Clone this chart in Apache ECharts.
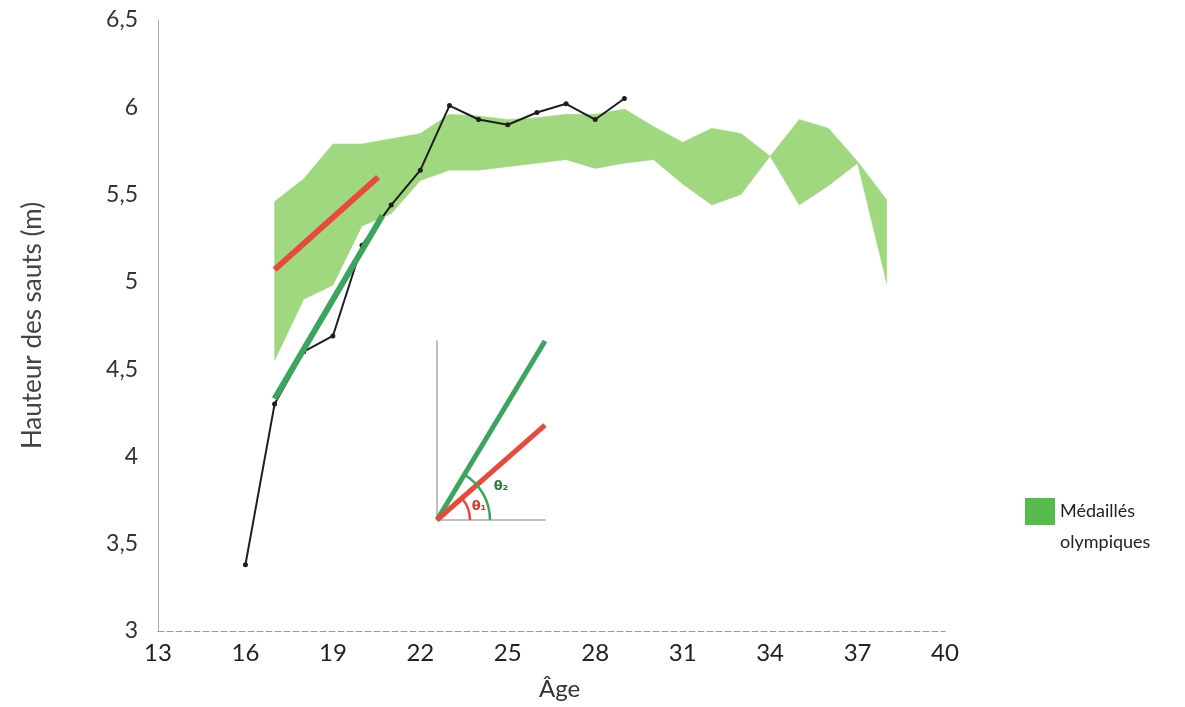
<!DOCTYPE html>
<html>
<head>
<meta charset="utf-8">
<script src="https://cdn.jsdelivr.net/npm/echarts@6/dist/echarts.min.js"></script>
<style>html,body{margin:0;padding:0;background:#fff}#c{width:1185px;height:707px}</style>
</head>
<body>
<div id="c"></div>
<script>
// Athlete jump heights (black line)
var athleteAges = [16, 17, 18, 19, 20, 21, 22, 23, 24, 25, 26, 27, 28, 29];
var athleteHeights = [3.38, 4.30, 4.60, 4.69, 5.21, 5.44, 5.64, 6.01, 5.93, 5.90, 5.97, 6.02, 5.93, 6.05];

// Olympic medallists band
var bandAges = [17, 18, 19, 20, 21, 22, 23, 24, 25, 26, 27, 28, 29, 30, 31, 32, 33, 34, 35, 36, 37, 38];
var bandUpper = [5.46, 5.59, 5.79, 5.79, 5.82, 5.85, 5.96, 5.95, 5.93, 5.94, 5.96, 5.96, 5.99, 5.89, 5.80, 5.88, 5.85, 5.72, 5.93, 5.88, 5.69, 5.47];
var bandLower = [4.55, 4.90, 4.98, 5.32, 5.39, 5.58, 5.64, 5.64, 5.66, 5.68, 5.70, 5.65, 5.68, 5.70, 5.56, 5.44, 5.50, 5.72, 5.44, 5.55, 5.68, 4.99];

// Trend lines
var redTrendAges = [17, 20.55];
var redTrendValues = [5.07, 5.60];
var greenTrendAges = [17, 20.7];
var greenTrendValues = [4.33, 5.38];

// Inset schematic (unit square)
var insetGreen = [[0, 0], [1, 1]];
var insetRed = [[0, 0], [1, 0.53]];

var xTicks = [13, 16, 19, 22, 25, 28, 31, 34, 37, 40];
var yTicks = [3, 3.5, 4, 4.5, 5, 5.5, 6, 6.5];

var bandName = 'Médaillés olympiques';

function pairs(xs, ys) { return xs.map(function (x, i) { return [x, ys[i]]; }); }

var bandData = bandAges.map(function (a, i) { return [a, bandLower[i], bandUpper[i]]; });

var chart = echarts.init(document.getElementById('c'), null, {renderer: 'canvas'});
chart.setOption({
  animation: false,
  backgroundColor: '#ffffff',
  grid: [
    {left: 158, right: 240, top: 20, bottom: 76},
    {left: 437, top: 341, width: 108, height: 179}
  ],
  xAxis: [{
    type: 'value', gridIndex: 0, min: 13, max: 40, interval: 3,
    name: 'Âge', nameLocation: 'middle', nameGap: 46,
    nameTextStyle: {fontFamily: 'Lato', fontSize: 24, color: '#333', padding: [0, 0, 0, 16]},
    axisLine: {show: true, lineStyle: {color: '#999', type: [6, 3], width: 1}},
    axisTick: {show: false},
    splitLine: {show: false},
    axisLabel: {margin: 10, fontFamily: 'Lato', fontSize: 24, color: '#222'}
  }, {
    type: 'value', gridIndex: 1, min: 0, max: 1,
    axisLine: {show: true, lineStyle: {color: '#aaa', width: 1.5}},
    axisTick: {show: false}, axisLabel: {show: false}, splitLine: {show: false}
  }],
  yAxis: [{
    type: 'value', gridIndex: 0, min: 3, max: 6.5, interval: 0.5,
    name: 'Hauteur des sauts (m)', nameLocation: 'middle', nameGap: 112, nameRotate: 90,
    nameTextStyle: {fontFamily: 'Lato', fontSize: 26, color: '#444'},
    axisLine: {show: true, lineStyle: {color: '#aaa', width: 1}},
    axisTick: {show: false},
    splitLine: {show: false},
    axisLabel: {margin: 20, fontFamily: 'Lato', fontSize: 23, color: '#333',
      formatter: function (v) { return String(v).replace('.', ','); }}
  }, {
    type: 'value', gridIndex: 1, min: 0, max: 1,
    axisLine: {show: true, lineStyle: {color: '#aaa', width: 1.5}},
    axisTick: {show: false}, axisLabel: {show: false}, splitLine: {show: false}
  }],
  legend: {
    left: 1020, top: 460, orient: 'vertical',
    itemWidth: 30, itemHeight: 27, itemGap: 10,
    data: [{name: bandName, icon: 'rect', itemStyle: {color: '#56bb4c'}}],
    formatter: function () { return '\nMédaillés\nolympiques'; },
    textStyle: {fontFamily: 'Lato', fontSize: 18, color: '#222', lineHeight: 31}
  },
  series: [
    {
      name: bandName, type: 'custom', xAxisIndex: 0, yAxisIndex: 0,
      data: bandData,
      itemStyle: {color: '#a0d880'},
      renderItem: function (params, api) {
        if (params.dataIndex !== 0) return null;
        var up = [], lo = [];
        for (var i = 0; i < bandData.length; i++) {
          up.push(api.coord([bandData[i][0], bandData[i][2]]));
          lo.push(api.coord([bandData[i][0], bandData[i][1]]));
        }
        var pts = up.concat(lo.reverse());
        return {type: 'polygon', shape: {points: pts}, style: {fill: '#a0d880', stroke: '#a0d880', lineWidth: 0.5}};
      },
      z: 1
    },
    {
      name: 'red', type: 'line', xAxisIndex: 0, yAxisIndex: 0,
      data: pairs(redTrendAges, redTrendValues),
      showSymbol: false, lineStyle: {color: '#e8493b', width: 6}, z: 3
    },
    {
      name: 'athlete', type: 'line', xAxisIndex: 0, yAxisIndex: 0,
      data: pairs(athleteAges, athleteHeights),
      symbol: 'circle', symbolSize: 5, showSymbol: true,
      itemStyle: {color: '#1e1e1e'}, lineStyle: {color: '#1e1e1e', width: 2}, z: 4
    },
    {
      name: 'green', type: 'line', xAxisIndex: 0, yAxisIndex: 0,
      data: pairs(greenTrendAges, greenTrendValues),
      showSymbol: false, lineStyle: {color: '#3ba55d', width: 6}, z: 5
    },
    {
      name: 'insetGreen', type: 'line', xAxisIndex: 1, yAxisIndex: 1,
      data: insetGreen, showSymbol: false, lineStyle: {color: '#3ba55d', width: 5}, z: 5
    },
    {
      name: 'insetRed', type: 'line', xAxisIndex: 1, yAxisIndex: 1,
      data: insetRed, showSymbol: false, lineStyle: {color: '#e8493b', width: 5}, z: 6
    },
    {
      name: 'angles', type: 'custom', xAxisIndex: 1, yAxisIndex: 1,
      data: [[0, 0]],
      renderItem: function (params, api) {
        var o = api.coord([0, 0]);
        var g = api.coord(insetGreen[1]);
        var r = api.coord(insetRed[1]);
        var ag = Math.atan2(g[1] - o[1], g[0] - o[0]);
        var ar = Math.atan2(r[1] - o[1], r[0] - o[0]);
        return {type: 'group', children: [
          {type: 'arc', shape: {cx: o[0], cy: o[1], r: 53, startAngle: ag, endAngle: 0, clockwise: true},
            style: {stroke: '#3ba55d', lineWidth: 2.5, fill: null}},
          {type: 'arc', shape: {cx: o[0], cy: o[1], r: 33, startAngle: ar, endAngle: 0, clockwise: true},
            style: {stroke: '#e8493b', lineWidth: 2.5, fill: null}},
          {type: 'text', x: o[0] + 42, y: o[1] - 13, style: {text: 'θ₁', fill: '#d23a30', fontSize: 13, fontWeight: 'bold', fontFamily: 'DejaVu Sans', align: 'center', verticalAlign: 'middle'}},
          {type: 'text', x: o[0] + 64, y: o[1] - 33, style: {text: 'θ₂', fill: '#2e7d3e', fontSize: 13, fontWeight: 'bold', fontFamily: 'DejaVu Sans', align: 'center', verticalAlign: 'middle'}}
        ]};
      },
      z: 7
    }
  ]
});
</script>
</body>
</html>
